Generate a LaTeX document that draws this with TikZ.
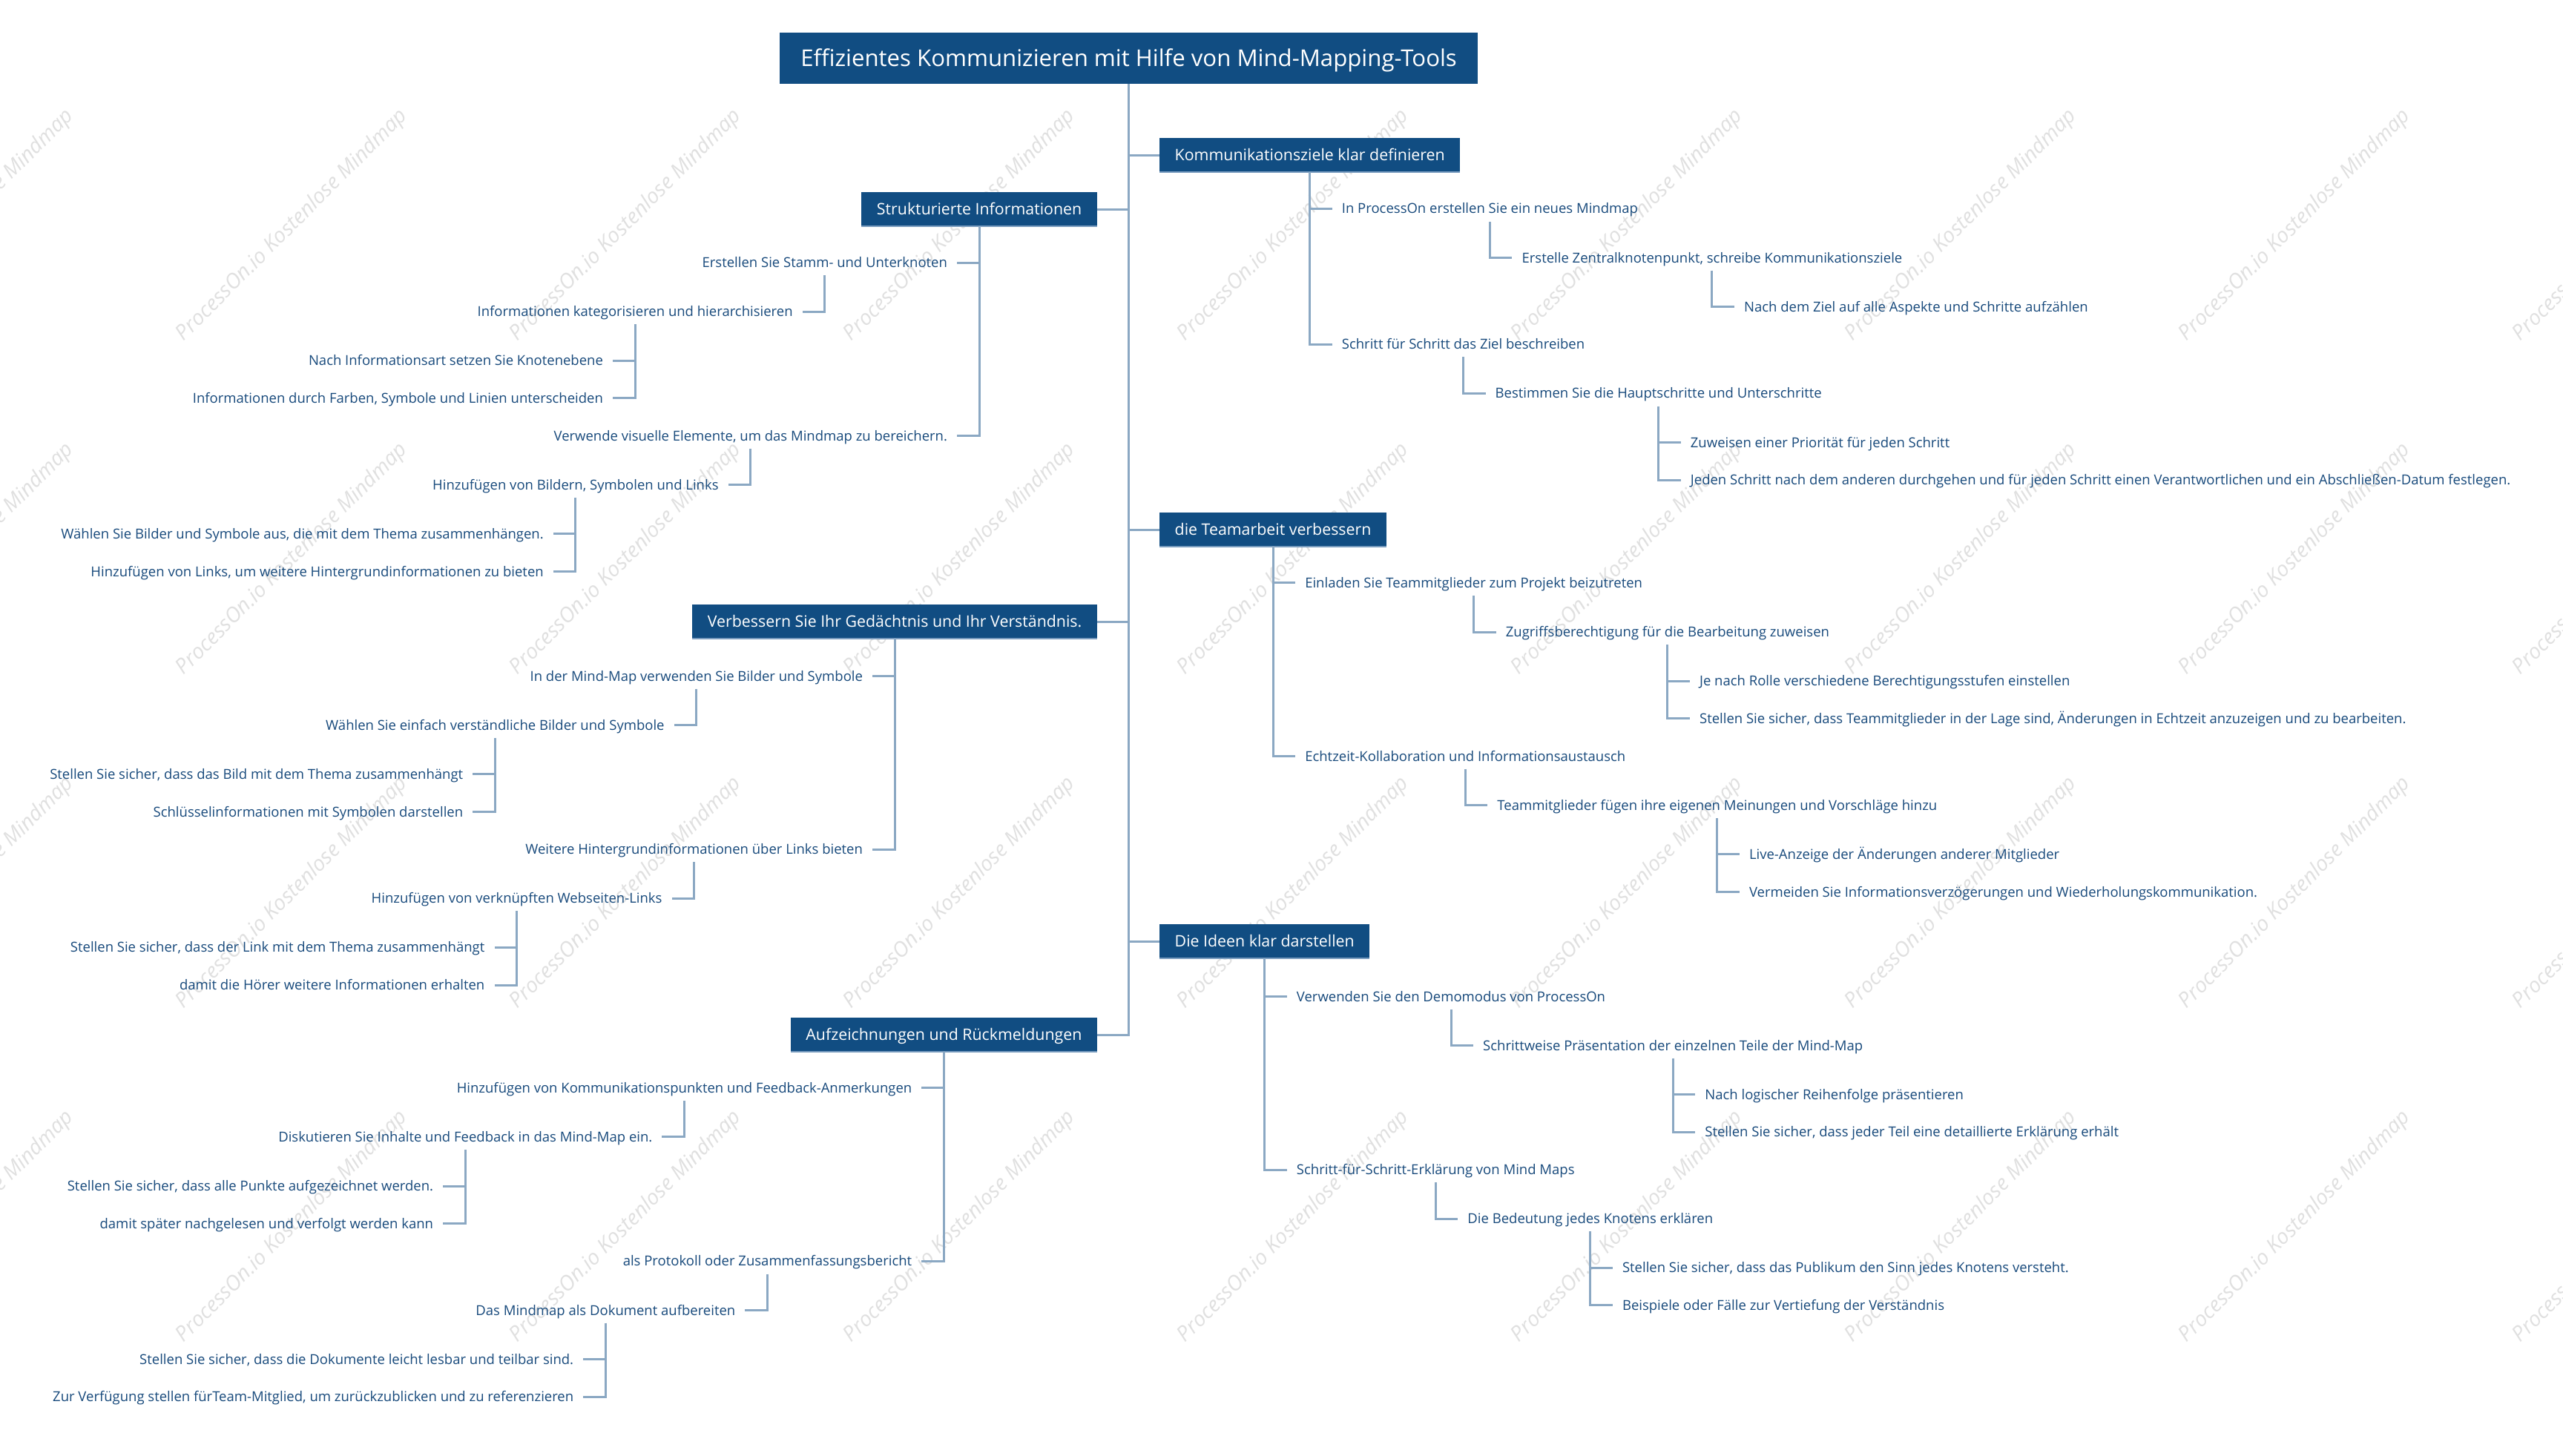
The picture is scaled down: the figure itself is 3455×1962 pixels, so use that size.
\documentclass[tikz,border=0pt]{standalone}
\usepackage{fontspec}
\setmainfont{Open Sans}
\usetikzlibrary{calc}
\definecolor{boxblue}{RGB}{17,77,130}
\definecolor{boxedge}{RGB}{120,155,190}
\definecolor{leafblue}{RGB}{24,74,124}
\definecolor{linecol}{RGB}{139,168,195}
\definecolor{wmgray}{RGB}{224,224,224}
\newdimen\calw
\tikzset{
  rootbox/.style={fill=boxblue, text=white, inner xsep=28pt, inner ysep=0pt,
    minimum height=69pt, text height=\rth pt, text depth=0pt,
    font=\fontsize{\rfs pt}{\rfs pt}\selectfont},
  mainbox/.style={fill=boxblue, text=white, inner xsep=20.5pt, inner ysep=0pt,
    minimum height=46pt, text height=\mth pt, text depth=0pt,
    font=\fontsize{\mfs pt}{\mfs pt}\selectfont},
  leaf/.style={text=leafblue, inner xsep=13pt, inner ysep=0pt,
    minimum height=34pt, text height=\lth pt, text depth=0pt,
    font=\fontsize{\lfs pt}{\lfs pt}\selectfont},
  conn/.style={draw=linecol, line width=3pt},
  edgeline/.style={draw=boxedge, line width=2pt},
  wmark/.style={text=wmgray, rotate=45, inner sep=0pt,
    font=\fontsize{\wfs pt}{\wfs pt}\selectfont\itshape}
}
% right child: name, parent, y, text
\newcommand\cR[4]{%
  \path let \p1=(#2.south) in node[leaf, anchor=west] (#1) at (\x1+30pt,-#3pt) {#4};
  \draw[conn] (#2.south) |- (#1.west);}
% left child
\newcommand\cL[4]{%
  \path let \p1=(#2.south) in node[leaf, anchor=east] (#1) at (\x1-30pt,-#3pt) {#4};
  \draw[conn] (#2.south) |- (#1.east);}
\begin{document}
% ---- font calibration ----
\setbox0=\hbox{\fontsize{20pt}{24pt}\selectfont Informationen durch Farben, Symbole und Linien unterscheiden}%
\calw=\wd0
\pgfmathsetmacro\lfs{553/\calw*20}%
\setbox0=\hbox{\fontsize{20pt}{24pt}\selectfont Kommunikationsziele klar definieren}%
\calw=\wd0
\pgfmathsetmacro\mfs{364/\calw*20}%
\setbox0=\hbox{\fontsize{20pt}{24pt}\selectfont Effizientes Kommunizieren mit Hilfe von Mind-Mapping-Tools}%
\calw=\wd0
\pgfmathsetmacro\rfs{884.5/\calw*20}%
\setbox0=\hbox{\fontsize{20pt}{24pt}\selectfont\itshape ProcessOn.io Kostenlose Mindmap}%
\calw=\wd0
\pgfmathsetmacro\wfs{428/\calw*20}%
\pgfmathsetmacro\lth{0.714*\lfs}%
\pgfmathsetmacro\mth{0.714*\mfs}%
\pgfmathsetmacro\rth{0.714*\rfs}%
\begin{tikzpicture}[x=1pt,y=-1pt]
\useasboundingbox[fill=white] (0,0) rectangle (3455,1962);
% ---- watermarks ----
\foreach \j in {0,1,2,3}{
  \foreach \k in {-1,0,1,2,3,4,5,6,7}{
    \node[wmark] (wm\j\k) at (394+450*\k, 304+450*\j) {ProcessOn.io Kostenlose Mindmap};
  }
}
% ---- root ----
\node[rootbox] (root) at (1521.5,78.5) {Effizientes Kommunizieren mit Hilfe von Mind-Mapping-Tools};
% ---- main branches ----
\node[mainbox, anchor=west] (K) at (1563,209) {Kommunikationsziele klar definieren};
\node[mainbox, anchor=west] (T) at (1563,714) {die Teamarbeit verbessern};
\node[mainbox, anchor=west] (D) at (1563,1269) {Die Ideen klar darstellen};
\node[mainbox, anchor=east] (S) at (1479,282) {Strukturierte Informationen};
\node[mainbox, anchor=east] (V) at (1479,838) {Verbessern Sie Ihr Gedächtnis und Ihr Verständnis.};
\node[mainbox, anchor=east] (A) at (1479,1395) {Aufzeichnungen und Rückmeldungen};
\foreach \b in {K,T,D,S,V,A}{\draw[edgeline] (\b.south west) -- (\b.south east);}
\foreach \b in {K,T,D}{\draw[conn] (root.south) |- (\b.west);}
\foreach \b in {S,V,A}{\draw[conn] (root.south) |- (\b.east);}
% ---- K ----
\cR{K1}{K}{281.3}{In ProcessOn erstellen Sie ein neues Mindmap}
\cR{K1a}{K1}{347.4}{Erstelle Zentralknotenpunkt, schreibe Kommunikationsziele}
\cR{K1a1}{K1a}{413.5}{Nach dem Ziel auf alle Aspekte und Schritte aufzählen}
\cR{K2}{K}{464.2}{Schritt für Schritt das Ziel beschreiben}
\cR{K2a}{K2}{530.3}{Bestimmen Sie die Hauptschritte und Unterschritte}
\cR{K2a1}{K2a}{596.4}{Zuweisen einer Priorität für jeden Schritt}
\cR{K2a2}{K2a}{647.1}{Jeden Schritt nach dem anderen durchgehen und für jeden Schritt einen Verantwortlichen und ein Abschließen-Datum festlegen.}
% ---- T ----
\cR{T1}{T}{785.9}{Einladen Sie Teammitglieder zum Projekt beizutreten}
\cR{T1a}{T1}{852}{Zugriffsberechtigung für die Bearbeitung zuweisen}
\cR{T1a1}{T1a}{918.1}{Je nach Rolle verschiedene Berechtigungsstufen einstellen}
\cR{T1a2}{T1a}{968.8}{Stellen Sie sicher, dass Teammitglieder in der Lage sind, Änderungen in Echtzeit anzuzeigen und zu bearbeiten.}
\cR{T2}{T}{1019.5}{Echtzeit-Kollaboration und Informationsaustausch}
\cR{T2a}{T2}{1085.6}{Teammitglieder fügen ihre eigenen Meinungen und Vorschläge hinzu}
\cR{T2a1}{T2a}{1151.7}{Live-Anzeige der Änderungen anderer Mitglieder}
\cR{T2a2}{T2a}{1202.4}{Vermeiden Sie Informationsverzögerungen und Wiederholungskommunikation.}
% ---- D ----
\cR{D1}{D}{1343.4}{Verwenden Sie den Demomodus von ProcessOn}
\cR{D1a}{D1}{1409.5}{Schrittweise Präsentation der einzelnen Teile der Mind-Map}
\cR{D1a1}{D1a}{1475.6}{Nach logischer Reihenfolge präsentieren}
\cR{D1a2}{D1a}{1526.3}{Stellen Sie sicher, dass jeder Teil eine detaillierte Erklärung erhält}
\cR{D2}{D}{1577}{Schritt-für-Schritt-Erklärung von Mind Maps}
\cR{D2a}{D2}{1643}{Die Bedeutung jedes Knotens erklären}
\cR{D2a1}{D2a}{1709.1}{Stellen Sie sicher, dass das Publikum den Sinn jedes Knotens versteht.}
\cR{D2a2}{D2a}{1759.8}{Beispiele oder Fälle zur Vertiefung der Verständnis}
% ---- S ----
\cL{S1}{S}{354}{Erstellen Sie Stamm- und Unterknoten}
\cL{S1a}{S1}{420.1}{Informationen kategorisieren und hierarchisieren}
\cL{S1a1}{S1a}{486.2}{Nach Informationsart setzen Sie Knotenebene}
\cL{S1a2}{S1a}{536.9}{Informationen durch Farben, Symbole und Linien unterscheiden}
\cL{S2}{S}{587.6}{Verwende visuelle Elemente, um das Mindmap zu bereichern.}
\cL{S2a}{S2}{653.7}{Hinzufügen von Bildern, Symbolen und Links}
\cL{S2a1}{S2a}{719.8}{Wählen Sie Bilder und Symbole aus, die mit dem Thema zusammenhängen.}
\cL{S2a2}{S2a}{770.5}{Hinzufügen von Links, um weitere Hintergrundinformationen zu bieten}
% ---- V ----
\cL{V1}{V}{911.5}{In der Mind-Map verwenden Sie Bilder und Symbole}
\cL{V1a}{V1}{977.6}{Wählen Sie einfach verständliche Bilder und Symbole}
\cL{V1a1}{V1a}{1043.7}{Stellen Sie sicher, dass das Bild mit dem Thema zusammenhängt}
\cL{V1a2}{V1a}{1094.4}{Schlüsselinformationen mit Symbolen darstellen}
\cL{V2}{V}{1145.1}{Weitere Hintergrundinformationen über Links bieten}
\cL{V2a}{V2}{1211.2}{Hinzufügen von verknüpften Webseiten-Links}
\cL{V2a1}{V2a}{1277.3}{Stellen Sie sicher, dass der Link mit dem Thema zusammenhängt}
\cL{V2a2}{V2a}{1328}{damit die Hörer weitere Informationen erhalten}
% ---- A ----
\cL{A1}{A}{1466.8}{Hinzufügen von Kommunikationspunkten und Feedback-Anmerkungen}
\cL{A1a}{A1}{1532.9}{Diskutieren Sie Inhalte und Feedback in das Mind-Map ein.}
\cL{A1a1}{A1a}{1599}{Stellen Sie sicher, dass alle Punkte aufgezeichnet werden.}
\cL{A1a2}{A1a}{1649.7}{damit später nachgelesen und verfolgt werden kann}
\cL{A2}{A}{1700.3}{als Protokoll oder Zusammenfassungsbericht}
\cL{A2a}{A2}{1766.5}{Das Mindmap als Dokument aufbereiten}
\cL{A2a1}{A2a}{1832.6}{Stellen Sie sicher, dass die Dokumente leicht lesbar und teilbar sind.}
\cL{A2a2}{A2a}{1883.2}{Zur Verfügung stellen fürTeam-Mitglied, um zurückzublicken und zu referenzieren}
\end{tikzpicture}
\end{document}
